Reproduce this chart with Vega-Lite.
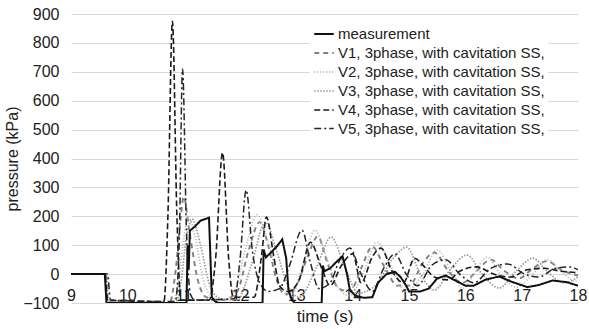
{
"$schema":"https://vega.github.io/schema/vega-lite/v6.json",
"width":507,"height":289,
"autosize":{"type":"none"},
"padding":{"left":71,"top":14,"right":11,"bottom":26},
"background":"white",
"config":{"view":{"stroke":null},"font":"Liberation Sans"},
"data":{"values":[
{"s":"measurement","t":9,"p":0},{"s":"measurement","t":9.6,"p":0},{"s":"measurement","t":9.63,"p":-100},{"s":"measurement","t":11.05,"p":-100},{"s":"measurement","t":11.07,"p":100},{"s":"measurement","t":11.09,"p":15},{"s":"measurement","t":11.11,"p":150},{"s":"measurement","t":11.2,"p":165},{"s":"measurement","t":11.3,"p":185},{"s":"measurement","t":11.45,"p":195},{"s":"measurement","t":11.5,"p":-80},{"s":"measurement","t":11.56,"p":-95},{"s":"measurement","t":11.62,"p":-100},{"s":"measurement","t":12.4,"p":-100},{"s":"measurement","t":12.42,"p":85},{"s":"measurement","t":12.46,"p":58},{"s":"measurement","t":12.55,"p":75},{"s":"measurement","t":12.65,"p":95},{"s":"measurement","t":12.75,"p":120},{"s":"measurement","t":12.82,"p":55},{"s":"measurement","t":12.86,"p":-55},{"s":"measurement","t":12.92,"p":-90},{"s":"measurement","t":12.98,"p":-100},{"s":"measurement","t":13.45,"p":-100},{"s":"measurement","t":13.47,"p":30},{"s":"measurement","t":13.5,"p":10},{"s":"measurement","t":13.6,"p":20},{"s":"measurement","t":13.7,"p":40},{"s":"measurement","t":13.82,"p":62},{"s":"measurement","t":13.9,"p":0},{"s":"measurement","t":13.95,"p":-55},{"s":"measurement","t":14.05,"p":-75},{"s":"measurement","t":14.2,"p":-82},{"s":"measurement","t":14.35,"p":-80},{"s":"measurement","t":14.45,"p":-30},{"s":"measurement","t":14.6,"p":0},{"s":"measurement","t":14.75,"p":8},{"s":"measurement","t":14.85,"p":-10},{"s":"measurement","t":14.95,"p":-40},{"s":"measurement","t":15.0,"p":-60},{"s":"measurement","t":15.2,"p":-60},{"s":"measurement","t":15.35,"p":-50},{"s":"measurement","t":15.5,"p":-15},{"s":"measurement","t":15.65,"p":-5},{"s":"measurement","t":15.8,"p":-20},{"s":"measurement","t":16.0,"p":-40},{"s":"measurement","t":16.15,"p":-40},{"s":"measurement","t":16.35,"p":-20},{"s":"measurement","t":16.6,"p":-8},{"s":"measurement","t":16.8,"p":-25},{"s":"measurement","t":17.1,"p":-45},{"s":"measurement","t":17.3,"p":-38},{"s":"measurement","t":17.55,"p":-22},{"s":"measurement","t":17.8,"p":-28},{"s":"measurement","t":18,"p":-40},

{"s":"V1, 3phase, with cavitation SS,","t":9,"p":0},{"s":"V1, 3phase, with cavitation SS,","t":9.62,"p":0},{"s":"V1, 3phase, with cavitation SS,","t":9.66,"p":-95},{"s":"V1, 3phase, with cavitation SS,","t":10.75,"p":-100},{"s":"V1, 3phase, with cavitation SS,","t":10.85,"p":0},{"s":"V1, 3phase, with cavitation SS,","t":10.95,"p":200},{"s":"V1, 3phase, with cavitation SS,","t":11.0,"p":268},{"s":"V1, 3phase, with cavitation SS,","t":11.1,"p":150},{"s":"V1, 3phase, with cavitation SS,","t":11.25,"p":-20},{"s":"V1, 3phase, with cavitation SS,","t":11.4,"p":-80},{"s":"V1, 3phase, with cavitation SS,","t":11.7,"p":-90},{"s":"V1, 3phase, with cavitation SS,","t":11.95,"p":-60},{"s":"V1, 3phase, with cavitation SS,","t":12.15,"p":80},{"s":"V1, 3phase, with cavitation SS,","t":12.35,"p":180},{"s":"V1, 3phase, with cavitation SS,","t":12.5,"p":100},{"s":"V1, 3phase, with cavitation SS,","t":12.65,"p":-20},{"s":"V1, 3phase, with cavitation SS,","t":12.8,"p":-70},{"s":"V1, 3phase, with cavitation SS,","t":13.0,"p":-40},{"s":"V1, 3phase, with cavitation SS,","t":13.2,"p":60},{"s":"V1, 3phase, with cavitation SS,","t":13.38,"p":130},{"s":"V1, 3phase, with cavitation SS,","t":13.55,"p":40},{"s":"V1, 3phase, with cavitation SS,","t":13.75,"p":-50},{"s":"V1, 3phase, with cavitation SS,","t":13.95,"p":-60},{"s":"V1, 3phase, with cavitation SS,","t":14.15,"p":20},{"s":"V1, 3phase, with cavitation SS,","t":14.35,"p":95},{"s":"V1, 3phase, with cavitation SS,","t":14.55,"p":30},{"s":"V1, 3phase, with cavitation SS,","t":14.8,"p":-40},{"s":"V1, 3phase, with cavitation SS,","t":15.0,"p":-40},{"s":"V1, 3phase, with cavitation SS,","t":15.25,"p":40},{"s":"V1, 3phase, with cavitation SS,","t":15.45,"p":75},{"s":"V1, 3phase, with cavitation SS,","t":15.7,"p":10},{"s":"V1, 3phase, with cavitation SS,","t":15.95,"p":-30},{"s":"V1, 3phase, with cavitation SS,","t":16.2,"p":10},{"s":"V1, 3phase, with cavitation SS,","t":16.45,"p":50},{"s":"V1, 3phase, with cavitation SS,","t":16.7,"p":10},{"s":"V1, 3phase, with cavitation SS,","t":16.95,"p":-15},{"s":"V1, 3phase, with cavitation SS,","t":17.2,"p":20},{"s":"V1, 3phase, with cavitation SS,","t":17.45,"p":45},{"s":"V1, 3phase, with cavitation SS,","t":17.7,"p":15},{"s":"V1, 3phase, with cavitation SS,","t":18,"p":-5},

{"s":"V2, 3phase, with cavitation SS,","t":9,"p":0},{"s":"V2, 3phase, with cavitation SS,","t":9.62,"p":0},{"s":"V2, 3phase, with cavitation SS,","t":9.66,"p":-95},{"s":"V2, 3phase, with cavitation SS,","t":10.8,"p":-100},{"s":"V2, 3phase, with cavitation SS,","t":10.9,"p":-40},{"s":"V2, 3phase, with cavitation SS,","t":11.0,"p":120},{"s":"V2, 3phase, with cavitation SS,","t":11.08,"p":200},{"s":"V2, 3phase, with cavitation SS,","t":11.2,"p":130},{"s":"V2, 3phase, with cavitation SS,","t":11.35,"p":-20},{"s":"V2, 3phase, with cavitation SS,","t":11.5,"p":-80},{"s":"V2, 3phase, with cavitation SS,","t":11.7,"p":-92},{"s":"V2, 3phase, with cavitation SS,","t":11.9,"p":-60},{"s":"V2, 3phase, with cavitation SS,","t":12.1,"p":90},{"s":"V2, 3phase, with cavitation SS,","t":12.3,"p":205},{"s":"V2, 3phase, with cavitation SS,","t":12.5,"p":110},{"s":"V2, 3phase, with cavitation SS,","t":12.7,"p":-30},{"s":"V2, 3phase, with cavitation SS,","t":12.9,"p":-80},{"s":"V2, 3phase, with cavitation SS,","t":13.1,"p":20},{"s":"V2, 3phase, with cavitation SS,","t":13.33,"p":152},{"s":"V2, 3phase, with cavitation SS,","t":13.55,"p":50},{"s":"V2, 3phase, with cavitation SS,","t":13.75,"p":-50},{"s":"V2, 3phase, with cavitation SS,","t":13.95,"p":-75},{"s":"V2, 3phase, with cavitation SS,","t":14.2,"p":10},{"s":"V2, 3phase, with cavitation SS,","t":14.43,"p":111},{"s":"V2, 3phase, with cavitation SS,","t":14.7,"p":20},{"s":"V2, 3phase, with cavitation SS,","t":14.95,"p":-60},{"s":"V2, 3phase, with cavitation SS,","t":15.25,"p":0},{"s":"V2, 3phase, with cavitation SS,","t":15.5,"p":83},{"s":"V2, 3phase, with cavitation SS,","t":15.75,"p":10},{"s":"V2, 3phase, with cavitation SS,","t":15.95,"p":-50},{"s":"V2, 3phase, with cavitation SS,","t":16.15,"p":0},{"s":"V2, 3phase, with cavitation SS,","t":16.38,"p":59},{"s":"V2, 3phase, with cavitation SS,","t":16.65,"p":-10},{"s":"V2, 3phase, with cavitation SS,","t":16.9,"p":-45},{"s":"V2, 3phase, with cavitation SS,","t":17.2,"p":0},{"s":"V2, 3phase, with cavitation SS,","t":17.45,"p":50},{"s":"V2, 3phase, with cavitation SS,","t":17.7,"p":10},{"s":"V2, 3phase, with cavitation SS,","t":17.95,"p":-25},{"s":"V2, 3phase, with cavitation SS,","t":18,"p":-20},

{"s":"V3, 3phase, with cavitation SS,","t":9,"p":0},{"s":"V3, 3phase, with cavitation SS,","t":9.62,"p":0},{"s":"V3, 3phase, with cavitation SS,","t":9.66,"p":-95},{"s":"V3, 3phase, with cavitation SS,","t":10.85,"p":-100},{"s":"V3, 3phase, with cavitation SS,","t":10.95,"p":-30},{"s":"V3, 3phase, with cavitation SS,","t":11.05,"p":130},{"s":"V3, 3phase, with cavitation SS,","t":11.15,"p":190},{"s":"V3, 3phase, with cavitation SS,","t":11.3,"p":100},{"s":"V3, 3phase, with cavitation SS,","t":11.45,"p":-30},{"s":"V3, 3phase, with cavitation SS,","t":11.65,"p":-85},{"s":"V3, 3phase, with cavitation SS,","t":11.95,"p":-90},{"s":"V3, 3phase, with cavitation SS,","t":12.2,"p":30},{"s":"V3, 3phase, with cavitation SS,","t":12.45,"p":180},{"s":"V3, 3phase, with cavitation SS,","t":12.65,"p":80},{"s":"V3, 3phase, with cavitation SS,","t":12.85,"p":-40},{"s":"V3, 3phase, with cavitation SS,","t":13.05,"p":-80},{"s":"V3, 3phase, with cavitation SS,","t":13.35,"p":20},{"s":"V3, 3phase, with cavitation SS,","t":13.62,"p":128},{"s":"V3, 3phase, with cavitation SS,","t":13.85,"p":30},{"s":"V3, 3phase, with cavitation SS,","t":14.1,"p":-66},{"s":"V3, 3phase, with cavitation SS,","t":14.4,"p":-40},{"s":"V3, 3phase, with cavitation SS,","t":14.7,"p":50},{"s":"V3, 3phase, with cavitation SS,","t":14.96,"p":93},{"s":"V3, 3phase, with cavitation SS,","t":15.2,"p":0},{"s":"V3, 3phase, with cavitation SS,","t":15.45,"p":-55},{"s":"V3, 3phase, with cavitation SS,","t":15.75,"p":20},{"s":"V3, 3phase, with cavitation SS,","t":16.03,"p":66},{"s":"V3, 3phase, with cavitation SS,","t":16.3,"p":0},{"s":"V3, 3phase, with cavitation SS,","t":16.6,"p":-48},{"s":"V3, 3phase, with cavitation SS,","t":16.9,"p":10},{"s":"V3, 3phase, with cavitation SS,","t":17.2,"p":55},{"s":"V3, 3phase, with cavitation SS,","t":17.45,"p":10},{"s":"V3, 3phase, with cavitation SS,","t":17.75,"p":-30},{"s":"V3, 3phase, with cavitation SS,","t":18,"p":-10},

{"s":"V4, 3phase, with cavitation SS,","t":9,"p":0},{"s":"V4, 3phase, with cavitation SS,","t":9.6,"p":0},{"s":"V4, 3phase, with cavitation SS,","t":9.65,"p":-90},{"s":"V4, 3phase, with cavitation SS,","t":10.65,"p":-95},{"s":"V4, 3phase, with cavitation SS,","t":10.72,"p":200},{"s":"V4, 3phase, with cavitation SS,","t":10.8,"p":875},{"s":"V4, 3phase, with cavitation SS,","t":10.88,"p":200},{"s":"V4, 3phase, with cavitation SS,","t":10.95,"p":-90},{"s":"V4, 3phase, with cavitation SS,","t":11.45,"p":-90},{"s":"V4, 3phase, with cavitation SS,","t":11.57,"p":60},{"s":"V4, 3phase, with cavitation SS,","t":11.69,"p":420},{"s":"V4, 3phase, with cavitation SS,","t":11.8,"p":50},{"s":"V4, 3phase, with cavitation SS,","t":11.88,"p":-80},{"s":"V4, 3phase, with cavitation SS,","t":12.25,"p":-80},{"s":"V4, 3phase, with cavitation SS,","t":12.38,"p":60},{"s":"V4, 3phase, with cavitation SS,","t":12.47,"p":197},{"s":"V4, 3phase, with cavitation SS,","t":12.6,"p":60},{"s":"V4, 3phase, with cavitation SS,","t":12.7,"p":-40},{"s":"V4, 3phase, with cavitation SS,","t":12.85,"p":-60},{"s":"V4, 3phase, with cavitation SS,","t":13.05,"p":-20},{"s":"V4, 3phase, with cavitation SS,","t":13.25,"p":110},{"s":"V4, 3phase, with cavitation SS,","t":13.45,"p":20},{"s":"V4, 3phase, with cavitation SS,","t":13.6,"p":-40},{"s":"V4, 3phase, with cavitation SS,","t":13.8,"p":30},{"s":"V4, 3phase, with cavitation SS,","t":14.0,"p":70},{"s":"V4, 3phase, with cavitation SS,","t":14.15,"p":-30},{"s":"V4, 3phase, with cavitation SS,","t":14.35,"p":60},{"s":"V4, 3phase, with cavitation SS,","t":14.5,"p":90},{"s":"V4, 3phase, with cavitation SS,","t":14.7,"p":10},{"s":"V4, 3phase, with cavitation SS,","t":14.9,"p":-30},{"s":"V4, 3phase, with cavitation SS,","t":15.1,"p":55},{"s":"V4, 3phase, with cavitation SS,","t":15.25,"p":30},{"s":"V4, 3phase, with cavitation SS,","t":15.45,"p":-10},{"s":"V4, 3phase, with cavitation SS,","t":15.7,"p":-20},{"s":"V4, 3phase, with cavitation SS,","t":15.9,"p":10},{"s":"V4, 3phase, with cavitation SS,","t":16.2,"p":25},{"s":"V4, 3phase, with cavitation SS,","t":16.5,"p":0},{"s":"V4, 3phase, with cavitation SS,","t":16.8,"p":-10},{"s":"V4, 3phase, with cavitation SS,","t":17.1,"p":15},{"s":"V4, 3phase, with cavitation SS,","t":17.4,"p":20},{"s":"V4, 3phase, with cavitation SS,","t":17.7,"p":10},{"s":"V4, 3phase, with cavitation SS,","t":18,"p":5},

{"s":"V5, 3phase, with cavitation SS,","t":9,"p":0},{"s":"V5, 3phase, with cavitation SS,","t":9.65,"p":0},{"s":"V5, 3phase, with cavitation SS,","t":9.7,"p":-90},{"s":"V5, 3phase, with cavitation SS,","t":10.85,"p":-95},{"s":"V5, 3phase, with cavitation SS,","t":10.92,"p":100},{"s":"V5, 3phase, with cavitation SS,","t":10.98,"p":710},{"s":"V5, 3phase, with cavitation SS,","t":11.05,"p":150},{"s":"V5, 3phase, with cavitation SS,","t":11.12,"p":-70},{"s":"V5, 3phase, with cavitation SS,","t":11.2,"p":-90},{"s":"V5, 3phase, with cavitation SS,","t":11.9,"p":-85},{"s":"V5, 3phase, with cavitation SS,","t":12.0,"p":50},{"s":"V5, 3phase, with cavitation SS,","t":12.11,"p":291},{"s":"V5, 3phase, with cavitation SS,","t":12.22,"p":80},{"s":"V5, 3phase, with cavitation SS,","t":12.35,"p":-30},{"s":"V5, 3phase, with cavitation SS,","t":12.5,"p":-60},{"s":"V5, 3phase, with cavitation SS,","t":12.7,"p":-50},{"s":"V5, 3phase, with cavitation SS,","t":12.88,"p":30},{"s":"V5, 3phase, with cavitation SS,","t":13.1,"p":152},{"s":"V5, 3phase, with cavitation SS,","t":13.25,"p":40},{"s":"V5, 3phase, with cavitation SS,","t":13.4,"p":-50},{"s":"V5, 3phase, with cavitation SS,","t":13.6,"p":-30},{"s":"V5, 3phase, with cavitation SS,","t":13.75,"p":40},{"s":"V5, 3phase, with cavitation SS,","t":13.95,"p":90},{"s":"V5, 3phase, with cavitation SS,","t":14.15,"p":0},{"s":"V5, 3phase, with cavitation SS,","t":14.35,"p":-60},{"s":"V5, 3phase, with cavitation SS,","t":14.55,"p":20},{"s":"V5, 3phase, with cavitation SS,","t":14.75,"p":70},{"s":"V5, 3phase, with cavitation SS,","t":14.95,"p":0},{"s":"V5, 3phase, with cavitation SS,","t":15.15,"p":-40},{"s":"V5, 3phase, with cavitation SS,","t":15.4,"p":30},{"s":"V5, 3phase, with cavitation SS,","t":15.65,"p":50},{"s":"V5, 3phase, with cavitation SS,","t":15.9,"p":0},{"s":"V5, 3phase, with cavitation SS,","t":16.15,"p":-30},{"s":"V5, 3phase, with cavitation SS,","t":16.45,"p":20},{"s":"V5, 3phase, with cavitation SS,","t":16.75,"p":35},{"s":"V5, 3phase, with cavitation SS,","t":17.05,"p":0},{"s":"V5, 3phase, with cavitation SS,","t":17.3,"p":-10},{"s":"V5, 3phase, with cavitation SS,","t":17.6,"p":20},{"s":"V5, 3phase, with cavitation SS,","t":17.85,"p":25},{"s":"V5, 3phase, with cavitation SS,","t":18,"p":15}
]},
"encoding":{
"x":{"field":"t","type":"quantitative","scale":{"domain":[9,18],"nice":false,"zero":false},
"axis":{"title":"time (s)","values":[9,10,11,12,13,14,15,16,17,18],"grid":false,"ticks":false,"domain":true,"domainColor":"#d9d9d9","offset":-29,"labelPadding":13,"labelFontSize":16,"labelColor":"#222","labelFont":"Liberation Sans","titleFont":"Liberation Sans","titleFontSize":17,"titleFontWeight":"normal","titleColor":"#222","titlePadding":5,"labelFlush":false}},
"y":{"field":"p","type":"quantitative","scale":{"domain":[-100,900],"nice":false},
"axis":{"title":"pressure  (kPa)","values":[-100,0,100,200,300,400,500,600,700,800,900],"grid":true,"gridColor":"#d9d9d9","gridWidth":1.2,"ticks":false,"domain":false,"labelPadding":12,"labelFontSize":16,"labelColor":"#222","labelFont":"Liberation Sans","titleFont":"Liberation Sans","titleFontSize":16,"titleFontWeight":"normal","titleColor":"#222","titlePadding":2}},
"color":{"field":"s","type":"nominal","title":null,
"scale":{"domain":["measurement","V1, 3phase, with cavitation SS,","V2, 3phase, with cavitation SS,","V3, 3phase, with cavitation SS,","V4, 3phase, with cavitation SS,","V5, 3phase, with cavitation SS,"],"range":["#111111","#808080","#b3b3b3","#999999","#1a1a1a","#262626"]},
"legend":{"orient":"none","legendX":239,"legendY":6,"fillColor":"white","padding":3,"labelFont":"Liberation Sans","labelFontSize":15,"labelColor":"#222","labelLimit":0,"symbolType":"stroke","symbolSize":380,"rowPadding":0,"labelOffset":3}},
"strokeDash":{"field":"s","type":"nominal","title":null,"scale":{"domain":["measurement","V1, 3phase, with cavitation SS,","V2, 3phase, with cavitation SS,","V3, 3phase, with cavitation SS,","V4, 3phase, with cavitation SS,","V5, 3phase, with cavitation SS,"],"range":[[1,0],[5,4],[1,2],[1.5,1.5],[6,3],[7,3,2,3]]}},
"strokeWidth":{"field":"s","type":"nominal","title":null,"scale":{"domain":["measurement","V1, 3phase, with cavitation SS,","V2, 3phase, with cavitation SS,","V3, 3phase, with cavitation SS,","V4, 3phase, with cavitation SS,","V5, 3phase, with cavitation SS,"],"range":[2,1.5,1.2,1.3,2.2,1.6]},"legend":null}
},
"layer":[
{"transform":[{"filter":"datum.s !== 'measurement'"}],"mark":{"type":"line","interpolate":"monotone","clip":true}},
{"transform":[{"filter":"datum.s === 'measurement'"}],"mark":{"type":"line","clip":true}}
]
}
